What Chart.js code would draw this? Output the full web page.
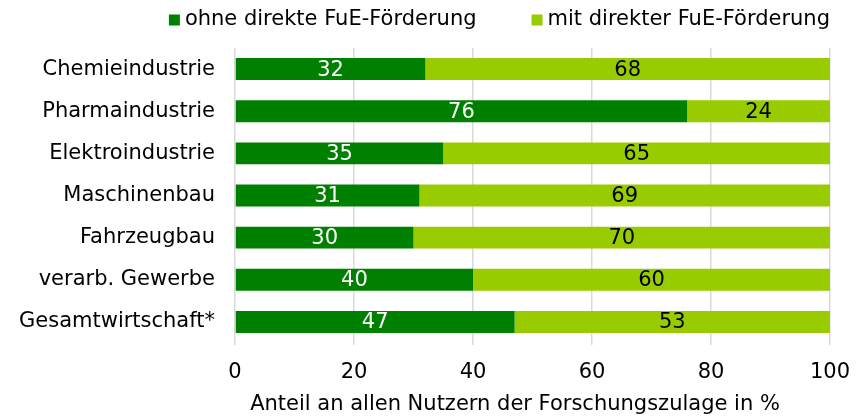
<!DOCTYPE html>
<html>
<head>
<meta charset="utf-8">
<script src="https://cdn.jsdelivr.net/npm/chart.js@4/dist/chart.umd.min.js"></script>
<style>
  html, body { margin: 0; padding: 0; background: #fff; }
  #wrap { width: 861px; height: 416px; }
</style>
</head>
<body>
<div id="wrap"><canvas id="chart"></canvas></div>
<script>
const categories = ["Chemieindustrie", "Pharmaindustrie", "Elektroindustrie", "Maschinenbau", "Fahrzeugbau", "verarb. Gewerbe", "Gesamtwirtschaft*"];
const ohneFoerderung = [32, 76, 35, 31, 30, 40, 47];
const mitFoerderung = [68, 24, 65, 69, 70, 60, 53];
const xTicks = [0, 20, 40, 60, 80, 100];
const xTitle = "Anteil an allen Nutzern der Forschungszulage in %";

const FONT = "'DejaVu Sans', Verdana, sans-serif";
const FS = 21;

// values written in the middle of each bar segment
const barLabels = {
  id: "barLabels",
  afterDatasetsDraw(chart) {
    const ctx = chart.ctx;
    ctx.save();
    ctx.font = FS + "px " + FONT;
    ctx.textAlign = "center";
    ctx.textBaseline = "middle";
    chart.data.datasets.forEach((ds, i) => {
      chart.getDatasetMeta(i).data.forEach((bar, j) => {
        const p = bar.getProps(["x", "y", "base"], true);
        ctx.fillStyle = i === 0 ? "#ffffff" : "#000000";
        ctx.fillText(ds.data[j], (p.x + p.base) / 2, p.y + 1);
      });
    });
    ctx.restore();
  }
};

// legend and axis title drawn by hand (wide legend gap, title a bit left of the plot centre)
const extras = {
  id: "extras",
  afterDraw(chart) {
    const ctx = chart.ctx;
    ctx.save();
    ctx.font = FS + "px " + FONT;
    ctx.textBaseline = "middle";
    const box = 11, gap = 5, between = 55, y = 20;
    const items = chart.data.datasets.map(ds => ({ text: ds.label, color: ds.backgroundColor }));
    let total = 0;
    items.forEach((it, i) => {
      it.w = ctx.measureText(it.text).width;
      total += box + gap + it.w + (i ? between : 0);
    });
    let x = chart.chartArea.right - total;
    items.forEach(it => {
      ctx.fillStyle = it.color;
      ctx.fillRect(x, y - box / 2, box, box);
      x += box + gap;
      ctx.fillStyle = "#000";
      ctx.fillText(it.text, x, y);
      x += it.w + between;
    });

    ctx.textAlign = "center";
    ctx.fillText(xTitle, chart.chartArea.left + 280, 405);
    ctx.restore();
  }
};

new Chart(document.getElementById("chart"), {
  type: "bar",
  data: {
    labels: categories,
    datasets: [
      { label: "ohne direkte FuE-Förderung", data: ohneFoerderung, backgroundColor: "#008000", barPercentage: 0.52, categoryPercentage: 1 },
      { label: "mit direkter FuE-Förderung", data: mitFoerderung, backgroundColor: "#99cc00", barPercentage: 0.52, categoryPercentage: 1 }
    ]
  },
  options: {
    indexAxis: "y",
    responsive: true,
    maintainAspectRatio: false,
    animation: false,
    layout: { padding: { left: 0, right: 31, top: 48, bottom: 0 } },
    plugins: {
      legend: { display: false },
      tooltip: { enabled: false }
    },
    scales: {
      x: {
        stacked: true,
        min: 0,
        max: 100,
        afterBuildTicks: (axis) => { axis.ticks = xTicks.map(v => ({ value: v })); },
        afterFit: (axis) => { axis.height = 73; axis.paddingRight = 0; },
        grid: { color: "#d9d9d9", lineWidth: 1.5, tickLength: 2 },
        border: { display: false },
        ticks: { font: { family: FONT, size: FS }, color: "#000", padding: 15 }
      },
      y: {
        stacked: true,
        afterFit: (axis) => { axis.width = 235; },
        grid: { display: false, drawTicks: false },
        border: { display: false },
        ticks: { font: { family: FONT, size: FS }, color: "#000", padding: 20 }
      }
    }
  },
  plugins: [barLabels, extras]
});
</script>
</body>
</html>
